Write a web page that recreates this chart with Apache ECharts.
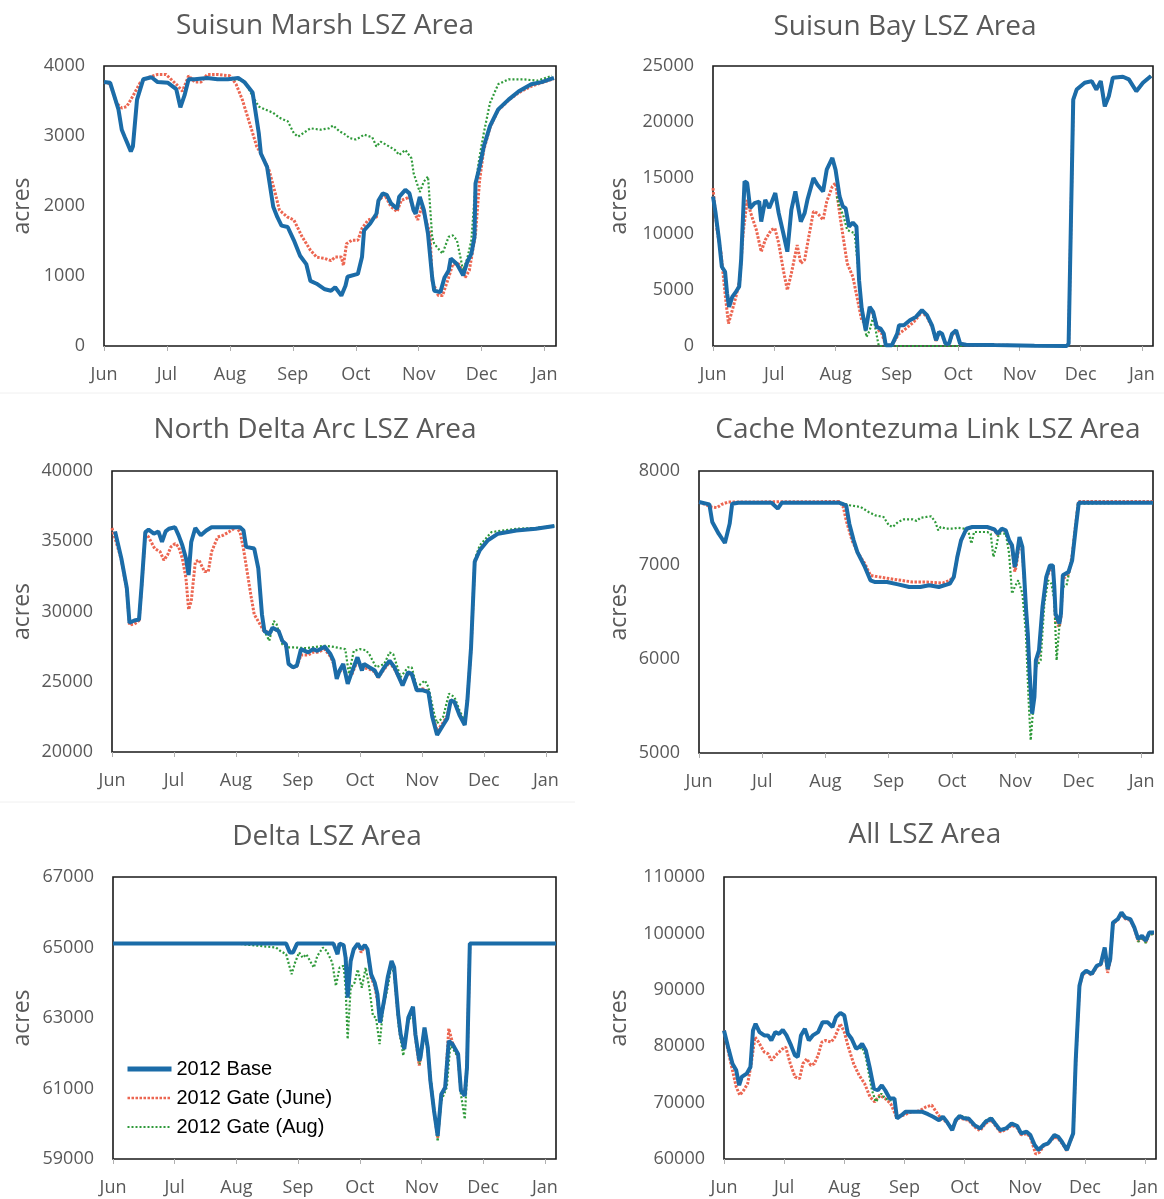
<!DOCTYPE html>
<html>
<head>
<meta charset="utf-8">
<script src="https://cdn.jsdelivr.net/npm/echarts@6/dist/echarts.min.js"></script>
<style>
html,body{margin:0;padding:0;background:#fff;}
#chart{width:1164px;height:1199px;}
</style>
</head>
<body>
<div id="chart"></div>
<script>
// ---- Data: [day offset from Jun 1, acres] ----
const monthLabels = ['Jun','Jul','Aug','Sep','Oct','Nov','Dec','Jan'];
const seriesNames = ['2012 Base','2012 Gate (June)','2012 Gate (Aug)'];

const marshBase = [[0,3770],[3,3760],[7,3380],[8.6,3090],[10,2990],[13,2780],[14,2850],[16,3520],[19,3810],[23,3840],[26,3770],[31,3760],[35,3670],[37,3410],[39,3580],[41,3810],[44,3810],[50,3830],[55,3810],[60,3810],[65,3830],[68,3770],[72,3620],[75,3040],[76,2750],[79,2560],[82,1990],[84,1840],[86,1720],[89,1700],[92,1510],[95,1290],[98,1170],[100,930],[103,890],[107,810],[110,790],[112,840],[115,720],[117,860],[118,990],[123,1030],[125,1270],[126,1650],[129,1750],[132,1890],[133,2080],[135,2180],[137,2160],[139,2040],[142,1960],[143,2130],[146,2230],[148,2180],[150,1940],[151,1890],[153,2130],[155,1940],[157,1600],[159,980],[160,790],[163,770],[165,980],[167,1080],[168,1250],[171,1170],[174,1010],[176,1200],[178,1320],[179.5,1560],[180,2320],[182,2560],[184,2850],[187,3140],[191,3380],[196,3520],[201,3640],[207,3740],[212,3770],[218,3830]];
const marshJune = [[0,3770],[3,3740],[6,3470],[8.6,3400],[11,3420],[14,3570],[17.5,3760],[21,3830],[26,3880],[30,3880],[35,3740],[38,3640],[41,3860],[44,3770],[47,3770],[50,3880],[55,3880],[61,3860],[64,3740],[67,3520],[71,3140],[74,2850],[76,2750],[80,2510],[83,2180],[85,1940],[89,1840],[92,1800],[96,1560],[100,1370],[103,1270],[107,1250],[110,1220],[112,1270],[115,1270],[116,1150],[117.5,1460],[120,1510],[123,1510],[125,1680],[128,1800],[132,1840],[133,2080],[136,2160],[139,1990],[142,1920],[144,2080],[148,2130],[150,1940],[152,1800],[154,1990],[158,1600],[159,930],[162,720],[164,720],[167,980],[169,1170],[172,1170],[175,980],[177,1080],[180,1600],[182,2370],[184,2800],[187,3120],[191,3370],[196,3510],[201,3620],[207,3710],[212,3760],[218,3820]];
const marshAug = [[61,3810],[64,3810],[68,3790],[72,3570],[75,3420],[78,3380],[82,3330],[85,3260],[89,3210],[92,3040],[94,2990],[98,3070],[100,3110],[105,3090],[109,3110],[111,3150],[114,3070],[117,3020],[119,2970],[122,2950],[124,2980],[126,3020],[130,2980],[132,2850],[134,2920],[137,2870],[141,2800],[143,2730],[146,2800],[149,2680],[150,2470],[153,2200],[155,2350],[157,2420],[159,1560],[160,1460],[164,1320],[167,1560],[169,1580],[171,1510],[174,1080],[176,1250],[178,1510],[180,2320],[182,2710],[184,3040],[187,3470],[191,3740],[196,3810],[203,3810],[210,3790],[217,3860]];

const bayBase = [[0,13350],[1.3,11860],[3,9470],[4.4,7080],[6,6630],[7,4690],[8,3490],[9.6,4390],[11.4,4840],[13,5290],[14,7680],[15.7,14700],[17,14550],[18.5,12310],[20.7,12750],[23,12900],[24,11110],[26,13050],[28,12310],[31,13650],[32.7,11860],[35,10070],[37,8420],[39,12160],[41,13800],[43.7,11110],[45.6,11860],[47,13050],[50,14990],[52,14400],[54.8,13800],[56.6,15740],[59.4,16790],[61,15740],[63,13350],[64.6,12460],[66,12310],[67.7,10660],[69.6,11020],[71.4,10660],[72.7,5880],[74,3350],[76,1400],[78,3490],[79.7,3050],[81.5,1700],[83.4,1550],[85,1100],[86,60],[89,60],[91.7,1100],[92.6,1850],[95,1850],[98,2300],[101,2600],[104,3200],[106.5,2750],[109,1850],[111,510],[112.5,1250],[114,1100],[115.7,210],[117.5,210],[119,1100],[121,1400],[123,210],[126,120],[140,80],[160,30],[176,0],[177,200],[179.3,22000],[181,22900],[185,23500],[188.5,23650],[190.8,22900],[193,23650],[195,21400],[197,22300],[199,23950],[204,24040],[207,23800],[210.7,22750],[214,23500],[218,24100]];
const bayJune = [[0,14100],[2,10360],[4,8270],[6,4690],[7.7,2000],[9.6,3200],[11.4,4390],[13.3,5880],[15,10070],[17,13050],[18.8,11860],[21.6,10360],[24,8420],[26,9470],[29,10360],[30.8,10510],[32.7,9170],[35,6780],[37,4990],[39,6480],[41.9,9020],[43.7,7380],[45.6,7680],[48,10070],[50,12010],[52,11860],[54.8,11260],[56.6,12900],[59.4,14250],[61,14550],[63,11860],[65,9470],[66.8,7380],[69.6,6180],[72,4090],[74,2300],[76,2000],[78,3200],[79.7,2900],[82.5,1400],[84,1100],[86,60],[89,60],[92.6,1100],[96,1550],[100,2150],[104,3050],[106.5,2600],[109,1700],[111,450],[112.5,1100],[114,1000],[115.7,200],[117.5,200],[119,1000],[121,1300],[123,200],[126,110],[140,70],[160,30],[176,0],[177,200],[179.3,22000],[181,22900],[185,23500],[188.5,23650],[190.8,22900],[193,23650],[195,21400],[197,22300],[199,23950],[204,24040],[207,23800],[210.7,22750],[214,23500],[218,24100]];
const bayAug = [[61.6,13350],[63,12460],[65,11560],[66.8,10360],[68.6,10210],[70.5,10070],[72,7380],[74,3490],[76.4,800],[78,1400],[79.7,2600],[81,1400],[82.5,0],[124,0],[126,100],[140,70],[160,30],[176,0],[177,200],[179.3,22000],[181,22900],[185,23500],[188.5,23650],[190.8,22900],[193,23650],[195,21400],[197,22300],[199,23950],[204,24040],[207,23800],[210.7,22750],[214,23500],[218,24100]];

const arcBase = [[1.5,35700],[4.6,33780],[7.3,31660],[8.6,29200],[11,29360],[13.3,29430],[14.6,31900],[16.4,35650],[18,35820],[20.6,35540],[22.8,35700],[24.6,34950],[26.4,35700],[28,35890],[31,36000],[32.8,35420],[34.6,34720],[36.4,33780],[37.7,32600],[39,34950],[41,35940],[43.7,35420],[46.4,35770],[49,36000],[63,36000],[64.7,35770],[66,34600],[70,34480],[72,33070],[73.8,29790],[75,28610],[77.4,28380],[79,28850],[82,28610],[83.8,27910],[85.6,27670],[86.9,26270],[89,26030],[91,26150],[93,27320],[96.5,27090],[99,27320],[101,27200],[104.7,27490],[107.5,26970],[109,26500],[110.6,25210],[112,25800],[113.8,26270],[116,24860],[118,25680],[120.8,26740],[123,25800],[124,26270],[126.6,26030],[129.3,25800],[131,25330],[134,26030],[136.6,26500],[139,26030],[143,24740],[145.7,25680],[147.5,25560],[150,24390],[153,24390],[155.7,24270],[157.6,22510],[160,21220],[163,21920],[165,22390],[166.7,23680],[168.5,23570],[171,22630],[173.6,21920],[174.9,23680],[176.7,27440],[178.5,33540],[181,34360],[185,35070],[190,35540],[199,35770],[208.6,35890],[217.7,36080]];
const arcJune = [[0,35940],[4.6,33700],[7.3,31500],[8.6,29040],[11,29100],[13.3,29350],[14.6,31800],[16.4,35540],[18,35300],[21,34480],[23.7,34250],[25.5,33660],[27.3,34010],[29,34600],[31,34830],[32.8,34600],[34.6,33780],[36.4,32370],[37.7,30140],[39,30730],[41,33540],[42.8,33660],[45.5,32840],[47.4,32840],[49,34250],[52,35300],[54.6,35420],[57.4,35650],[61,36000],[63,35650],[64.7,34480],[66.5,32840],[68.3,31200],[70,29790],[72.9,29080],[74.7,28610],[77.4,28500],[79,28800],[82,28600],[83.8,27950],[85.6,27600],[86.9,26300],[89,26000],[91,26100],[93,26900],[96.5,26900],[99,27100],[101,27100],[104.7,27300],[107.5,26800],[109,26300],[110.6,25400],[112,25700],[113.8,26000],[116,25200],[118,25500],[120.8,26500],[123,25900],[124,26000],[126.6,25900],[129.3,25700],[131,25300],[134,25900],[136.6,26400],[139,25900],[143,24800],[145.7,25600],[147.5,25500],[150,24400],[153,24500],[155.7,24300],[157.6,22700],[160,21500],[163,22100],[165,22600],[166.7,23700],[168.5,23500],[171,22700],[173.6,22000],[174.9,23700],[176.7,27400],[178.5,33500],[181,34400],[185,35100],[190,35550],[199,35780],[208.6,35900],[217.7,36080]];
const arcAug = [[61,36000],[63,36000],[64.7,35770],[66,34600],[70,34480],[72,33070],[73.8,29790],[75,28610],[77.4,27910],[79.6,29320],[81,29100],[83.8,27670],[86.5,27440],[90,27440],[95.6,27390],[104.7,27560],[108,27510],[114.8,27320],[116.6,25560],[119,27200],[122,27320],[124.8,27250],[126.6,26970],[130,26030],[134,26270],[136.6,27090],[138.4,26970],[142,25330],[145.7,26030],[147.5,26030],[150,24620],[154,25090],[155.7,24620],[158.5,22750],[160,22040],[163,22510],[165.8,24150],[168.5,23920],[171,22980],[173.6,22160],[174.9,23700],[176.7,27500],[178.5,33700],[181,34710],[186.7,35650],[199,35890],[208.6,35950],[217.7,36100]];

const cacheBase = [[0,7670],[5,7645],[6.4,7457],[9.5,7333],[12.5,7234],[14.8,7440],[16,7652],[19,7663],[35,7663],[38,7600],[40,7663],[67.5,7663],[71,7635],[72.5,7440],[74.6,7262],[76.4,7138],[80,6979],[82.7,6837],[85,6819],[90.7,6819],[96,6794],[101.4,6766],[106.8,6766],[111,6784],[115.7,6766],[121,6801],[122.9,6872],[124.6,7085],[126.4,7262],[129,7386],[131.8,7404],[139,7404],[142.5,7379],[144,7333],[146,7386],[148,7369],[149.6,7262],[151,7209],[152.3,6979],[153,7050],[154.6,7298],[156,7191],[156.8,6908],[157.7,6553],[158.6,6270],[159.5,5844],[160.7,5418],[161.8,5596],[162.5,5986],[164,6092],[165.7,6553],[167.5,6872],[169.3,6996],[170.7,6996],[171.4,6766],[172,6482],[173.8,6376],[174.6,6482],[175.5,6890],[178.2,6925],[180,7050],[181.8,7404],[183.2,7663],[219,7663]];
const cacheJune = [[0,7670],[6,7617],[8.6,7610],[11,7645],[14,7670],[67.5,7675],[69.6,7617],[71,7475],[73.8,7262],[76.4,7138],[80,7014],[82.7,6890],[85,6880],[94,6848],[103,6819],[110,6819],[117.5,6808],[121,6837],[122.9,6880],[124.6,7085],[126.4,7262],[129,7380],[131.8,7400],[139,7400],[142.5,7370],[144,7320],[146,7380],[148,7360],[149.6,7250],[151,7180],[152.3,6930],[153,6980],[154.6,7250],[156,7150],[156.8,6880],[157.7,6540],[158.6,6250],[159.5,5830],[160.7,5450],[161.8,5620],[162.5,5950],[164,6050],[165.7,6520],[167.5,6850],[169.3,6950],[170.7,6950],[171.4,6740],[172,6400],[173.8,6340],[174.6,6450],[175.5,6850],[178.2,6900],[180,7100],[181.8,7450],[183,7675],[219,7675]];
const cacheAug = [[61,7663],[68.4,7663],[72.9,7635],[78,7617],[81.8,7564],[85,7528],[89,7511],[91.6,7422],[93.4,7404],[96,7457],[98.8,7486],[103,7486],[105,7468],[106.8,7503],[109.5,7511],[112,7518],[114,7457],[115.4,7369],[116.6,7404],[119.3,7386],[122.9,7386],[124.6,7397],[128,7386],[130,7351],[131.4,7227],[132.7,7351],[139,7351],[140.7,7333],[142,7085],[143.4,7191],[144.6,7333],[148,7333],[149.6,7120],[151,6695],[152.3,6766],[154,6837],[156,6695],[157.7,6270],[159,5560],[160,5135],[161,5418],[162.5,5915],[164.8,5986],[166.6,6589],[168.4,6837],[170,6801],[171.4,6624],[172.5,5986],[173.8,6340],[175.5,6766],[177.3,6784],[180,7085],[182.8,7652],[219,7663]];

const deltaBase = [[0,65110],[85.6,65110],[87.4,64860],[89,64860],[91,65110],[109,65110],[111,64810],[112,65110],[114,65070],[115,64710],[116,63580],[117.5,64620],[119,64950],[121,65110],[122.7,64950],[124.5,65070],[125.8,64950],[127.6,64240],[129.4,64000],[130.7,63680],[132,62870],[134,63490],[135.8,64150],[137.7,64620],[139,64430],[141,63110],[142.2,62540],[144,62120],[146,63010],[148.3,63320],[149.5,62540],[151.4,61790],[152,61880],[154,62730],[155.6,62160],[156.9,61220],[158.7,60370],[160.5,59660],[162.3,60840],[164.2,61030],[166,62350],[167.8,62260],[170.6,61980],[172,60940],[173.9,60790],[175,61600],[176.4,65110],[219,65110]];
const deltaJune = [[0,65110],[85.6,65110],[87.4,64880],[89,64880],[91,65110],[109,65110],[111,64830],[112,65110],[114,65070],[115,64750],[116,63750],[117.5,64650],[119,64950],[121,65110],[122.7,64860],[124.5,65030],[125.8,64950],[127.6,64150],[129.4,63900],[130.7,63500],[132,62900],[134,63450],[135.8,64100],[137.7,64600],[139,64400],[141,63050],[142.2,62450],[144,62200],[146,63000],[148.3,63250],[149.5,62450],[151.4,61650],[152,61700],[154,62700],[155.6,62150],[156.9,61200],[158.7,60350],[160.5,59600],[162.3,60800],[164.2,61050],[166,62700],[167.8,62300],[170.6,61900],[172,60950],[173.9,60900],[175,61600],[176.4,65110],[219,65110]];
const deltaAug = [[61,65110],[80.6,65000],[82.8,64900],[85.6,64810],[88.3,64240],[90,64570],[92,64860],[93.8,64710],[95.6,64810],[97.4,64620],[99.3,64430],[101,64760],[103.8,65000],[105.7,64900],[108.4,64570],[110.2,63910],[112,64430],[114,64480],[115,63860],[116,62400],[117.5,63860],[119.4,64000],[121,64380],[123,63860],[124.9,64430],[126.7,63860],[128.5,63060],[130,63010],[131.8,62260],[133.6,63300],[135.8,63860],[137.7,64530],[139,64240],[141.3,62730],[143.5,61930],[146,62920],[148.3,63110],[150,62350],[151.6,61690],[154,62540],[155.8,61980],[157.6,61030],[160.5,59500],[162.3,60650],[165,61030],[166.8,62260],[170.6,61880],[172,60840],[173.9,60130],[175,61410],[176.4,65110],[219,65110]];

const allBase = [[0,82790],[2.5,79260],[4.3,76900],[6.2,75720],[7.7,73070],[9,74550],[11.5,75130],[13.4,76310],[14.7,82790],[16,83970],[18,82500],[20.4,81910],[22.3,81910],[24,81020],[26,82500],[28,82200],[29.8,82910],[31.7,81910],[34,80140],[36,78370],[37.4,78080],[39,81910],[41,83090],[43,81020],[45,81910],[47.7,82500],[50,84260],[52.5,84260],[55,83380],[56.8,85150],[59,85910],[61,85440],[62.8,82200],[64.7,81320],[67,79550],[68.5,79850],[70,80440],[71.9,79260],[73.8,76310],[76,72480],[78,72190],[80,73070],[81.7,72190],[84,70720],[86.4,70720],[87.7,67180],[90,67770],[92,68360],[96.8,68360],[100.6,68360],[103.4,67950],[106,67480],[109,66890],[111,67480],[113,66600],[115.7,65120],[117.5,66890],[119.4,67600],[122,67180],[124,67180],[127,66010],[129.8,65420],[132.6,66600],[135.5,67180],[137.4,66300],[140,65120],[143,65420],[145.8,66300],[148.7,65830],[150.6,64530],[153.4,64830],[155.3,64240],[157.5,62470],[159.4,61590],[162,62470],[164.3,62770],[167.5,64240],[169.4,63950],[171.3,63060],[173.8,61590],[175.7,63360],[177,64530],[178.3,77490],[180.2,90740],[181.7,92800],[183.6,93390],[186.4,92800],[189,94270],[191,94570],[193,97510],[194.5,93680],[195.8,95450],[197.2,101930],[199.6,102520],[201.5,103700],[203.4,102810],[206,102520],[208,101050],[210,98990],[211.9,99570],[213.8,98690],[215.6,100160],[218,100160]];
const allJune = [[0,82790],[2.5,78500],[4.3,75720],[6.2,72780],[8,71310],[10,72190],[12,73370],[13.8,76900],[15.7,81610],[17.5,80730],[20.4,78960],[22.3,78670],[24,77490],[27,78670],[29.8,79550],[31.3,79850],[33.6,76900],[36,74550],[38.3,74250],[40,76900],[42,77780],[44,76600],[45.8,76900],[47.7,78370],[49.6,80730],[51.5,81020],[54.3,80730],[56.2,81610],[59,83970],[61,82500],[62.8,80140],[65.7,76900],[68.5,74840],[71.3,73370],[74,71010],[76.4,70130],[78.9,71310],[81.7,70720],[84.5,69830],[87.4,67480],[91,67770],[95,68360],[99,68500],[102.5,69250],[105.3,69540],[107,68660],[110,67180],[113,66500],[115.7,65300],[117.5,66700],[119.4,67300],[122,67000],[124,66900],[127,65700],[129.8,65000],[132.6,66300],[135.5,66900],[137.4,66000],[140,64800],[143,65200],[145.8,66000],[148.7,65500],[150.6,64300],[153.4,64500],[155.3,63900],[158,60880],[160,61200],[162,62300],[164.3,62700],[167.5,63900],[169.4,63600],[171.3,62800],[173.8,61500],[175.7,63200],[177,64400],[178.3,77000],[180.2,90500],[181.7,92600],[183.6,93200],[186.4,92600],[189,94100],[191,94400],[193,96800],[194.5,93000],[195.8,95200],[197.2,101700],[199.6,102400],[201.5,103400],[203.4,102600],[206,102300],[208,100900],[210,98600],[211.9,99300],[213.8,98400],[215.6,99900],[218,100000]];
const allAug = [[61,85440],[62.8,82200],[64.7,81320],[66.6,79550],[68.5,79500],[70,79800],[71.9,78080],[75,72190],[77,70130],[79.8,71600],[81.7,70720],[84,70430],[86.4,70400],[87.7,67180],[90,67770],[92,68360],[96.8,68360],[100.6,68300],[103.4,67950],[106,67600],[109,67000],[111,67600],[113,66700],[115.7,65300],[117.5,67000],[119.4,67800],[122,67400],[124,67300],[127,66100],[129.8,65500],[132.6,66800],[135.5,67400],[137.4,66400],[140,65200],[143,65500],[145.8,66400],[148.7,65900],[150.6,64600],[153.4,64900],[155.3,64300],[157.5,62500],[159.4,61700],[162,62500],[164.3,62800],[167.5,64300],[169.4,64000],[171.3,63100],[173.8,61600],[175.7,63400],[177,64600],[178.3,77500],[180.2,90700],[181.7,92800],[183.6,93400],[186.4,92800],[189,94300],[191,94600],[193,97400],[194.5,93700],[195.8,95400],[197.2,101900],[199.6,102500],[201.5,103600],[203.4,102800],[206,102500],[208,101000],[210,98500],[211.9,99300],[213.8,98300],[215.6,99800],[218,99900]];

const titles = ['Suisun Marsh LSZ Area','Suisun Bay LSZ Area','North Delta Arc LSZ Area','Cache Montezuma Link LSZ Area','Delta LSZ Area','All LSZ Area'];
const yRanges = [[0,4000,1000],[0,25000,5000],[20000,40000,5000],[5000,8000,1000],[59000,67000,2000],[60000,110000,10000]];
const panelData = [
  [marshBase, marshJune, marshAug],
  [bayBase, bayJune, bayAug],
  [arcBase, arcJune, arcAug],
  [cacheBase, cacheJune, cacheAug],
  [deltaBase, deltaJune, deltaAug],
  [allBase, allJune, allAug]
];

// ---- Layout (pixels) ----
const boxes = [
  {left:104, top:66,  width:452, height:280, tx:325, ty:12,  gap:70},
  {left:713, top:66,  width:440, height:280, tx:905, ty:13,  gap:82},
  {left:112, top:471, width:445, height:281, tx:315, ty:416, gap:78},
  {left:699, top:471, width:454, height:282, tx:928, ty:416, gap:68},
  {left:113, top:877, width:443, height:282, tx:327, ty:823, gap:79},
  {left:724, top:877, width:432, height:282, tx:925, ty:821, gap:93}
];

const GREY = '#595959';
const FONT = '"Open Sans", "Noto Sans", sans-serif';
const colors = {base:'#1B6CA8', june:'#EC6651', aug:'#2F9A3A'};

function monthFmt(v){
  for (let i=0;i<monthLabels.length;i++){ if (Math.abs(v - i*30.5) < 0.01) return monthLabels[i]; }
  return '';
}

const grid=[], xAxis=[], yAxis=[], series=[], title=[];
boxes.forEach((b,i)=>{
  grid.push({left:b.left, top:b.top, width:b.width, height:b.height, show:true, borderColor:'#1a1a1a', borderWidth:1.6, backgroundColor:'transparent', containLabel:false});
  xAxis.push({gridIndex:i, type:'value', min:0, max:219, interval:30.5,
    axisLine:{show:false}, splitLine:{show:false},
    axisTick:{show:true, length:5, lineStyle:{color:'#b0b0b0', width:1}},
    axisLabel:{formatter:monthFmt, color:GREY, fontSize:18, fontFamily:FONT, margin:20, showMaxLabel:false}});
  const r = yRanges[i];
  yAxis.push({gridIndex:i, type:'value', min:r[0], max:r[1], interval:r[2],
    axisLine:{show:false}, axisTick:{show:false}, splitLine:{show:false},
    axisLabel:{color:GREY, fontSize:18, fontFamily:FONT, margin:19, formatter:(v)=>String(v)},
    name:'acres', nameLocation:'middle', nameGap:b.gap, nameRotate:90,
    nameTextStyle:{color:GREY, fontSize:23, fontFamily:FONT}});
  title.push({text:titles[i], left:b.tx, top:b.ty, textAlign:'center', padding:0,
    textStyle:{color:GREY, fontSize:28, fontWeight:'normal', fontFamily:FONT}});
  const d = panelData[i];
  series.push({name:seriesNames[1], type:'line', xAxisIndex:i, yAxisIndex:i, data:d[1], symbol:'none', z:2,
    lineStyle:{color:colors.june, width:3, type:[2.5,1.5]}, itemStyle:{color:colors.june}});
  series.push({name:seriesNames[2], type:'line', xAxisIndex:i, yAxisIndex:i, data:d[2], symbol:'none', z:3,
    lineStyle:{color:colors.aug, width:2.2, type:[2,2]}, itemStyle:{color:colors.aug}});
  series.push({name:seriesNames[0], type:'line', xAxisIndex:i, yAxisIndex:i, data:d[0], symbol:'none', z:4,
    lineStyle:{color:colors.base, width:4}, itemStyle:{color:colors.base}});
});

const chart = echarts.init(document.getElementById('chart'), null, {renderer:'canvas'});
chart.setOption({
  animation:false,
  backgroundColor:'#fff',
  title, grid, xAxis, yAxis, series,
  legend:{
    data:[
      {name:seriesNames[0], lineStyle:{width:5}},
      {name:seriesNames[1], lineStyle:{width:2.5}},
      {name:seriesNames[2], lineStyle:{width:2}}
    ],
    orient:'vertical', left:120, top:1054, itemWidth:44, itemHeight:10, itemGap:9,
    itemStyle:{opacity:0},
    textStyle:{color:'#000', fontSize:20, fontFamily:'"Liberation Sans", Arial, sans-serif'}},
  graphic:[
    {type:'line', shape:{x1:0, y1:393, x2:1164, y2:393}, style:{stroke:'#f0f0f0', lineWidth:1}, silent:true},
    {type:'line', shape:{x1:0, y1:802, x2:575, y2:802}, style:{stroke:'#f0f0f0', lineWidth:1}, silent:true}
  ]
});
</script>
</body>
</html>
